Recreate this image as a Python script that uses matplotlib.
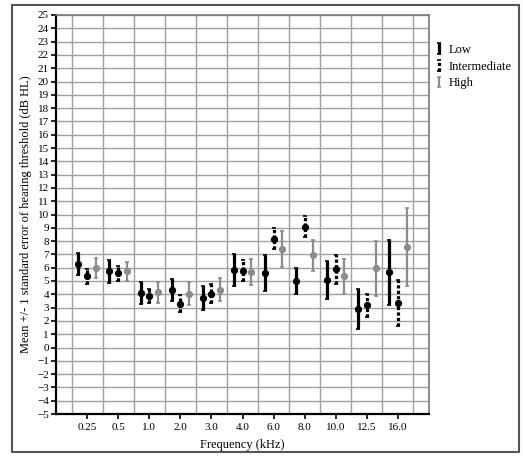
import matplotlib.pyplot as plt
from matplotlib.patches import Rectangle
from matplotlib.legend_handler import HandlerErrorbar
from matplotlib.container import ErrorbarContainer

plt.rcParams['font.family'] = ['Liberation Serif', 'DejaVu Serif']

freqs = ['0.25', '0.5', '1.0', '2.0', '3.0', '4.0', '6.0', '8.0', '10.0', '12.5', '16.0']

low_mean = [6.25, 5.72, 4.11, 4.34, 3.74, 5.84, 5.62, 5.01, 5.11, 2.89, 5.64]
low_se = [0.82, 0.85, 0.83, 0.82, 0.90, 1.18, 1.34, 0.98, 1.43, 1.52, 2.46]

mid_mean = [5.34, 5.57, 3.89, 3.29, 4.06, 5.77, 8.17, 9.07, 5.89, 3.16, 3.34]
mid_se = [0.58, 0.54, 0.52, 0.64, 0.72, 0.78, 0.79, 0.79, 1.08, 0.90, 1.70]

high_mean = [5.97, 5.72, 4.16, 4.04, 4.36, 5.69, 7.42, 6.92, 5.34, 5.97, 7.55]
high_se = [0.76, 0.73, 0.78, 0.86, 0.88, 0.97, 1.37, 1.17, 1.33, 2.07, 2.95]

fig = plt.figure(figsize=(5.23, 4.57), dpi=100)
ax = fig.add_axes([56 / 523, 1 - 414 / 457, 373 / 523, 399 / 457])

# outer frame round the whole picture
fig.patches.append(Rectangle((12 / 523, 5 / 457), 507 / 523, 447 / 457,
                             transform=fig.transFigure, fill=False,
                             edgecolor='#555555', linewidth=1.5))

xs = list(range(1, len(freqs) + 1))
off = 0.28
series = [
    ('Low', low_mean, low_se, -off, 'black', 2.3, '-'),
    ('Intermediate', mid_mean, mid_se, 0.0, 'black', 2.3, (0, (1.0, 0.7))),
    ('High', high_mean, high_se, off, '#8c8c8c', 1.6, '-'),
]
for name, m, se, dx, col, lw, ls in series:
    x = [v + dx for v in xs]
    eb = ax.errorbar(x, m, yerr=se, fmt='none', ecolor=col, elinewidth=lw,
                     capsize=1.5, capthick=1.2, label=name, zorder=3)
    eb[2][0].set_linestyle(ls)
    ax.plot(x, m, 'o', color=col, markersize=4.2, zorder=4)

ax.set_xlim(0, 12)
ax.set_ylim(-5, 25)
ax.set_xticks(xs)
ax.set_xticklabels(freqs)
ax.set_yticks(range(-5, 26))
ax.set_xticks([i + 0.5 for i in range(0, 12)], minor=True)
ax.grid(True, which='minor', axis='x', color='#a0a0a0', linewidth=1.0)
ax.grid(True, which='major', axis='y', color='#a0a0a0', linewidth=1.0)
ax.set_axisbelow(True)
ax.tick_params(axis='x', which='minor', length=0)
ax.tick_params(axis='both', which='major', labelsize=8, length=3.5, width=1.2,
               direction='out', pad=1.5)
ax.tick_params(axis='x', which='major', pad=3)

for s in ['left', 'bottom']:
    ax.spines[s].set_linewidth(1.6)
    ax.spines[s].set_color('black')
for s in ['top', 'right']:
    ax.spines[s].set_linewidth(1.2)
    ax.spines[s].set_color('#777777')

ax.set_xlabel('Frequency (kHz)', fontsize=9, labelpad=5)
ax.set_ylabel('Mean +/- 1 standard error of hearing threshold (dB HL)', fontsize=9,
              labelpad=4)

ax.legend(loc='upper left', bbox_to_anchor=(1.004, 0.94), frameon=False,
          fontsize=9, handlelength=0.6, handletextpad=0.45, labelspacing=0.38,
          borderaxespad=0,
          handler_map={ErrorbarContainer: HandlerErrorbar(xerr_size=0.42)})

plt.savefig('out.png', dpi=100)
